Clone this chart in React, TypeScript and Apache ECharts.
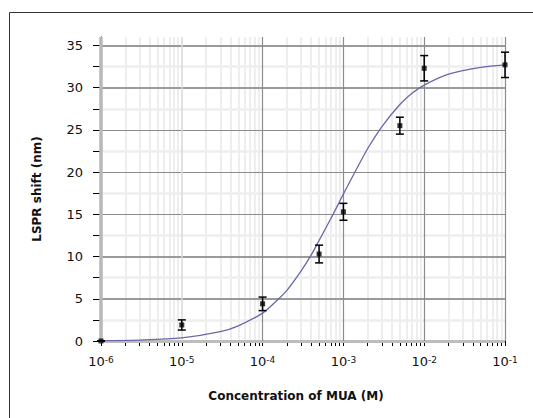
import React, { useEffect, useRef } from "react";
import * as echarts from "echarts";

// Measured data (concentration of MUA in M, LSPR shift in nm)
const concentrations = [1e-6, 1e-5, 1e-4, 5e-4, 1e-3, 5e-3, 1e-2, 1e-1];
const shifts = [0, 1.9, 4.4, 10.3, 15.3, 25.5, 32.3, 32.7];
const errors = [0, 0.6, 0.8, 1.05, 1.0, 1.0, 1.5, 1.5];

// Fitted curve
const fitX = [1e-6, 3e-6, 1e-5, 3e-5, 5e-5, 1e-4, 1.5e-4, 2e-4, 3e-4, 4e-4, 5e-4, 7e-4, 1e-3, 1.5e-3, 2e-3, 3e-3, 5e-3, 7e-3, 1e-2, 2e-2, 5e-2, 1e-1];
const fitY = [0.04, 0.11, 0.37, 1.1, 1.8, 3.3, 4.8, 6.0, 8.3, 10.2, 11.9, 14.5, 17.4, 20.6, 22.8, 25.4, 28.0, 29.3, 30.3, 31.6, 32.4, 32.7];

// Axis ticks
const xDecades = [1e-6, 1e-5, 1e-4, 1e-3, 1e-2, 1e-1];
const xMinorMultipliers = [2, 3, 4, 5, 6, 7, 8, 9];
const yMajorTicks = [0, 5, 10, 15, 20, 25, 30, 35];
const yMinorTicks = [2.5, 7.5, 12.5, 17.5, 22.5, 27.5, 32.5];

const FONT = "DejaVu Sans";

export default function App() {
  const ref = useRef<HTMLDivElement>(null);

  useEffect(() => {
    document.body.style.margin = "0";
    if (!ref.current) return;
    const chart = echarts.init(ref.current, null, { renderer: "svg" });

    const xMinor: number[] = [];
    xDecades.slice(0, -1).forEach((d) => xMinorMultipliers.forEach((m) => xMinor.push(d * m)));
    const xAllTicks = [...xDecades, ...xMinor].sort((a, b) => a - b);
    const yAllTicks = [...yMajorTicks, ...yMinorTicks].sort((a, b) => a - b);

    const vMajorStyle = (i: number) =>
      i === 0
        ? { color: "#b8b8b8", width: 3.5, type: "solid" }
        : i === 1
        ? { color: "#d8d8d8", width: 1.5, type: "solid" }
        : { color: "#8c8c8c", width: 1.2, type: "solid" };
    const hMajorStyle = (v: number) =>
      v === 0
        ? { color: "#bdbdbd", width: 3, type: "solid" }
        : [5, 10, 30, 35].includes(v)
        ? { color: "#9a9a9a", width: 2, type: "solid" }
        : { color: "#8c8c8c", width: 1, type: "solid" };

    const gridLines = [
      ...xMinor.map((v) => ({ xAxis: v, lineStyle: { color: "#e8e8e8", width: 1.5, type: "solid" } })),
      ...yMinorTicks.map((v) => ({ yAxis: v, lineStyle: { color: "#eeeeee", width: 2.5, type: "solid" } })),
      ...yMajorTicks.map((v) => ({ yAxis: v, lineStyle: hMajorStyle(v) })),
      ...xDecades.map((v, i) => ({ xAxis: v, lineStyle: vMajorStyle(i) })),
    ];

    const errData = concentrations.map((c, i) => [c, shifts[i] - errors[i], shifts[i] + errors[i]]);
    const pointData = concentrations.map((c, i) => [c, shifts[i]]);
    const fitData = fitX.map((x, i) => [x, fitY[i]]);

    chart.setOption({
      animation: false,
      backgroundColor: "#ffffff",
      graphic: [
        {
          type: "rect",
          shape: { x: 9.5, y: 12.5, width: 800, height: 700 },
          style: { fill: "none", stroke: "#333333", lineWidth: 1 },
          silent: true,
          z: -10,
        },
      ],
      grid: { left: 101, right: 28, top: 37, bottom: 77 },
      xAxis: {
        type: "log",
        logBase: 10,
        min: 1e-6,
        max: 1e-1,
        name: "Concentration of MUA (M)",
        nameLocation: "middle",
        nameGap: 49,
        nameTextStyle: {
          fontFamily: FONT,
          fontSize: 12,
          fontWeight: "bold",
          color: "#111",
          padding: [0, 14, 0, 0],
        },
        axisLine: { show: true, lineStyle: { color: "#000", width: 1 } },
        axisTick: { show: true, length: 5, customValues: xAllTicks, lineStyle: { color: "#000", width: 1 } },
        axisLabel: {
          customValues: xDecades,
          margin: 14,
          formatter: (v: number) => `{b|10}{s|${Math.round(Math.log10(v))}}`,
          rich: {
            b: { fontFamily: FONT, fontSize: 13, color: "#111" },
            s: { fontFamily: FONT, fontSize: 9, color: "#111", verticalAlign: "top" },
          },
        },
        splitLine: { show: false },
        minorSplitLine: { show: false },
      },
      yAxis: {
        type: "value",
        min: 0,
        max: 36,
        interval: 5,
        name: "LSPR shift (nm)",
        nameLocation: "middle",
        nameGap: 58,
        nameTextStyle: { fontFamily: FONT, fontSize: 12, fontWeight: "bold", color: "#111" },
        axisLine: { show: true, lineStyle: { color: "#000", width: 1 } },
        axisTick: { show: true, length: 8, customValues: yAllTicks, lineStyle: { color: "#000", width: 1 } },
        axisLabel: {
          customValues: yMajorTicks,
          margin: 18,
          fontFamily: FONT,
          fontSize: 13,
          color: "#111",
        },
        splitLine: { show: false },
      },
      series: [
        {
          type: "line",
          data: [[1e-6, 0]],
          showSymbol: false,
          silent: true,
          z: 1,
          lineStyle: { opacity: 0 },
          markLine: {
            z: 1,
            silent: true,
            precision: 12,
            symbol: ["none", "none"],
            label: { show: false },
            lineStyle: { type: "solid" },
            emphasis: { disabled: true },
            data: gridLines,
          },
        },
        {
          type: "line",
          data: fitData,
          smooth: 0.3,
          showSymbol: false,
          z: 6,
          lineStyle: { color: "#6868a8", width: 1.3 },
        },
        {
          type: "custom",
          z: 7,
          data: errData,
          encode: { x: 0, y: [1, 2] },
          renderItem: (params: any, api: any) => {
            const x = api.value(0);
            const top = api.coord([x, api.value(2)]);
            const bot = api.coord([x, api.value(1)]);
            const w = 4;
            const st = { stroke: "#000", lineWidth: 1.5 };
            return {
              type: "group",
              children: [
                { type: "line", shape: { x1: top[0], y1: top[1], x2: bot[0], y2: bot[1] }, style: st },
                { type: "line", shape: { x1: top[0] - w, y1: top[1], x2: top[0] + w, y2: top[1] }, style: st },
                { type: "line", shape: { x1: bot[0] - w, y1: bot[1], x2: bot[0] + w, y2: bot[1] }, style: st },
              ],
            };
          },
        },
        {
          type: "scatter",
          z: 8,
          data: pointData,
          symbol: "rect",
          symbolSize: 5,
          itemStyle: { color: "#000" },
        },
      ],
    });

    return () => chart.dispose();
  }, []);

  return <div ref={ref} style={{ width: 533, height: 418, background: "#fff" }} />;
}
